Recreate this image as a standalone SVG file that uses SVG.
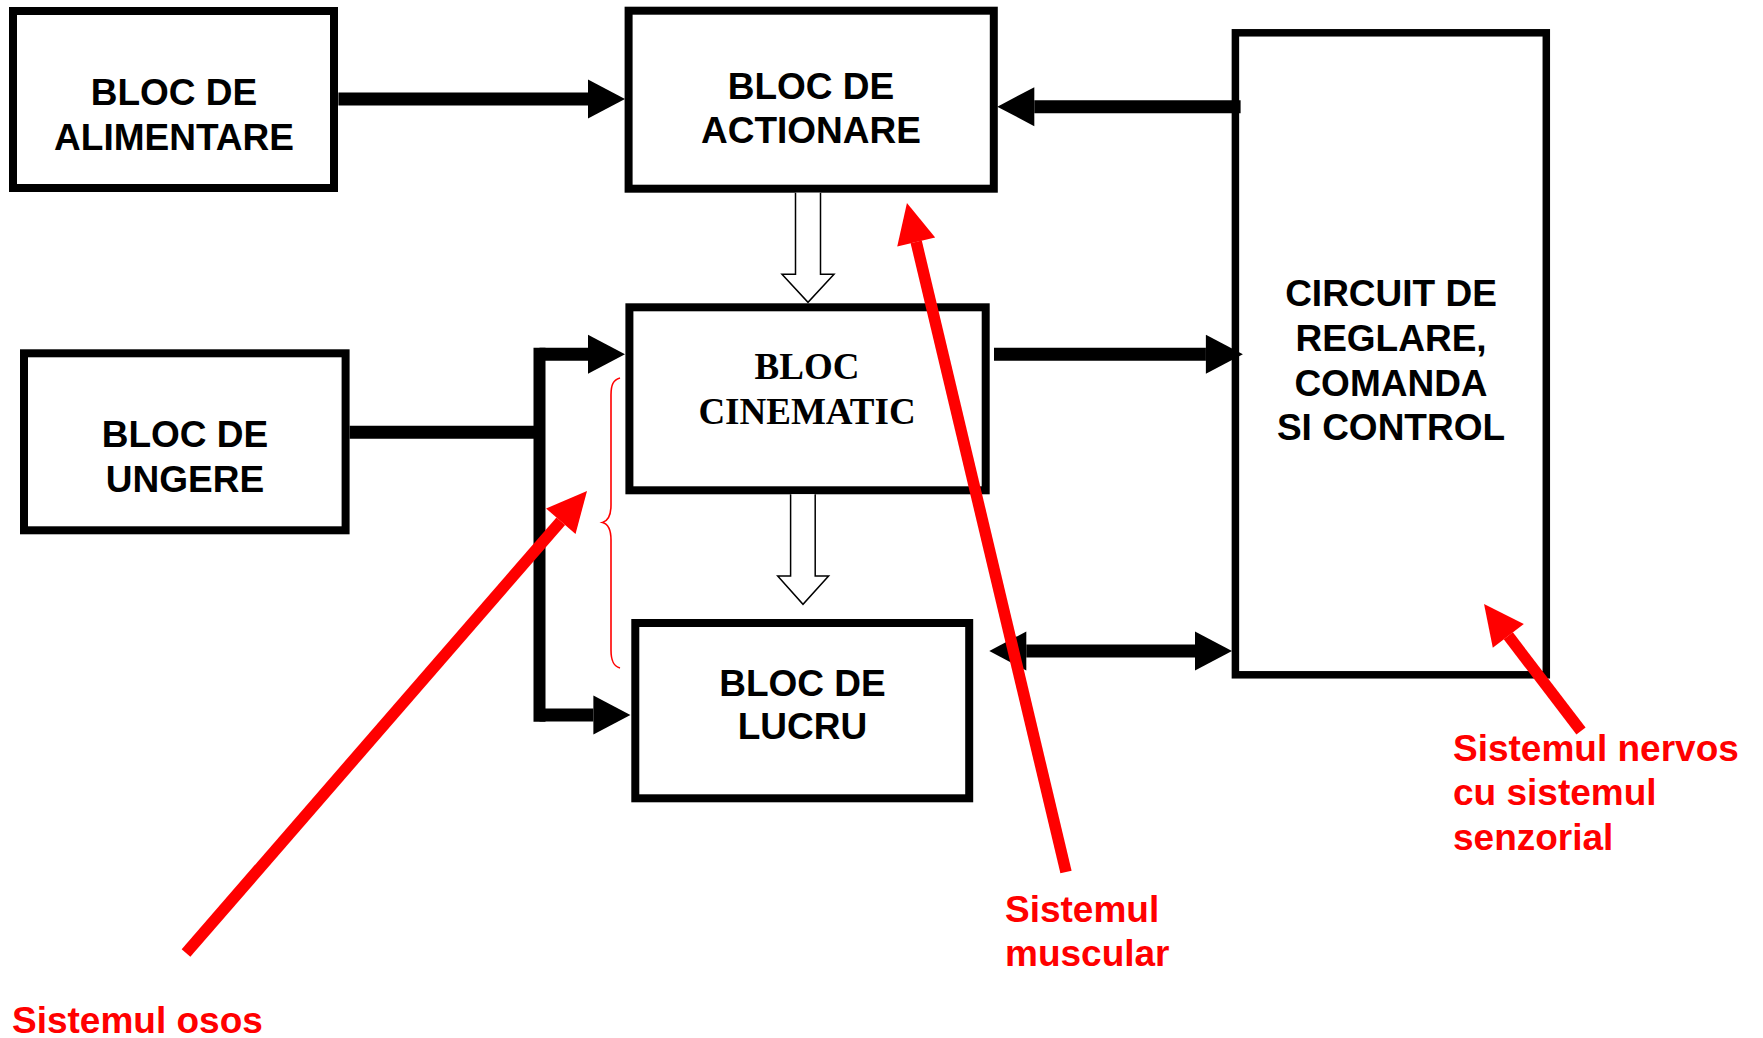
<svg xmlns="http://www.w3.org/2000/svg" width="1763" height="1038" viewBox="0 0 1763 1038">
  <style>
    .box { fill: none; stroke: #000; stroke-width: 8; }
    .lbl { font-family: "Liberation Sans", Arial, sans-serif; font-weight: bold; font-size: 37px; fill: #000; text-anchor: middle; }
    .serif { font-family: "Liberation Serif", "Times New Roman", serif; font-weight: bold; font-size: 37px; fill: #000; text-anchor: middle; }
    .wire { fill: none; stroke: #000; stroke-width: 13; }
    .hollow { fill: #fff; stroke: #000; stroke-width: 1.5; }
    .note { fill: none; stroke: #f00; stroke-width: 11.5; }
    .brace { fill: none; stroke: #f00; stroke-width: 1.6; }
    .ntxt { font-family: "Liberation Sans", Arial, sans-serif; font-weight: bold; font-size: 37px; fill: #f00; }
  </style>
  <defs>
    <marker id="head" markerUnits="userSpaceOnUse" orient="auto-start-reverse" refX="0" refY="0" markerWidth="40" markerHeight="40" overflow="visible">
      <path d="M0,-19.5 L37,0 L0,19.5 z" fill="#000"/>
    </marker>
    <marker id="redhead" markerUnits="userSpaceOnUse" orient="auto" refX="0" refY="0" markerWidth="40" markerHeight="40" overflow="visible">
      <path d="M0,-19.5 L40,0 L0,19.5 z" fill="#f00"/>
    </marker>
  </defs>
  <rect width="1763" height="1038" fill="#fff"/>

  <g id="bloc-alimentare">
    <rect class="box" x="13" y="11" width="321" height="177"/>
    <text class="lbl" x="174" y="105">BLOC DE</text>
    <text class="lbl" x="174" y="150">ALIMENTARE</text>
  </g>

  <g id="bloc-actionare">
    <rect class="box" x="628.6" y="10.7" width="365.2" height="178"/>
    <text class="lbl" x="811" y="99.3">BLOC DE</text>
    <text class="lbl" x="811" y="143.3">ACTIONARE</text>
  </g>

  <g id="bloc-cinematic">
    <rect class="box" x="629.4" y="307.3" width="356.3" height="183"/>
    <text class="serif" x="807" y="379">BLOC</text>
    <text class="serif" x="807" y="424">CINEMATIC</text>
  </g>

  <g id="bloc-ungere">
    <rect class="box" x="24" y="353.3" width="321.6" height="177"/>
    <text class="lbl" x="185" y="446.7">BLOC DE</text>
    <text class="lbl" x="185" y="491.7">UNGERE</text>
  </g>

  <g id="bloc-lucru">
    <rect class="box" x="635.3" y="623" width="333.9" height="175.3"/>
    <text class="lbl" x="802.5" y="695.7">BLOC DE</text>
    <text class="lbl" x="802.5" y="739.3">LUCRU</text>
  </g>

  <g id="circuit-reglare">
    <rect class="box" x="1235.4" y="32.8" width="310.9" height="642" style="stroke-width:7.5"/>
    <text class="lbl" x="1391" y="305.8">CIRCUIT DE</text>
    <text class="lbl" x="1391" y="351.3">REGLARE,</text>
    <text class="lbl" x="1391" y="396">COMANDA</text>
    <text class="lbl" x="1391" y="439.7">SI CONTROL</text>
  </g>

  <g id="connectors">
    <!-- supply to actuation -->
    <path class="wire" d="M338.4,99 H588" marker-end="url(#head)"/>
    <!-- control to actuation -->
    <path class="wire" d="M1240.6,106.7 H1034.3" marker-end="url(#head)"/>
    <!-- kinematic to control -->
    <path class="wire" d="M994,354.3 H1205.9" marker-end="url(#head)"/>
    <!-- lubrication bus -->
    <path class="wire" d="M349.6,432.3 H539.5"/>
    <path class="wire" d="M539.5,347.7 V721.7" style="stroke-width:12"/>
    <path class="wire" d="M539.5,354.3 H588" marker-end="url(#head)"/>
    <path class="wire" d="M539.5,715 H593.4" marker-end="url(#head)"/>
    <!-- two-way link working block / control -->
    <path class="wire" d="M1026.3,651 H1195" marker-start="url(#head)" marker-end="url(#head)"/>
    <!-- mechanical transmission arrows -->
    <path class="hollow" d="M795.5,192.7 V274.3 H782 L808,302.3 L834,274.3 H820.5 V192.7"/>
    <path class="hollow" d="M790.6,494.3 V576 H777.7 L803,604.3 L828.6,576 H815.2 V494.3"/>
  </g>

  <g id="annotations">
    <path class="brace" d="M620,378 C613,380 611,385 611,395 L611,505 C611,516 608,521 602.5,522.5 C608,524 611,529 611,540 L611,650 C611,660 613,666 620,668"/>
    <path class="note" d="M186,953 L560.8,521.2" marker-end="url(#redhead)"/>
    <path class="note" d="M1066,872 L916.2,241.9" marker-end="url(#redhead)"/>
    <path class="note" d="M1581,731 L1508.3,635.8" marker-end="url(#redhead)"/>
    <text class="ntxt" x="12" y="1033">Sistemul osos</text>
    <text class="ntxt" x="1005" y="921.7">Sistemul</text>
    <text class="ntxt" x="1005" y="965.5">muscular</text>
    <text class="ntxt" x="1453" y="761">Sistemul nervos</text>
    <text class="ntxt" x="1453" y="805">cu sistemul</text>
    <text class="ntxt" x="1453" y="849.5">senzorial</text>
  </g>
</svg>
